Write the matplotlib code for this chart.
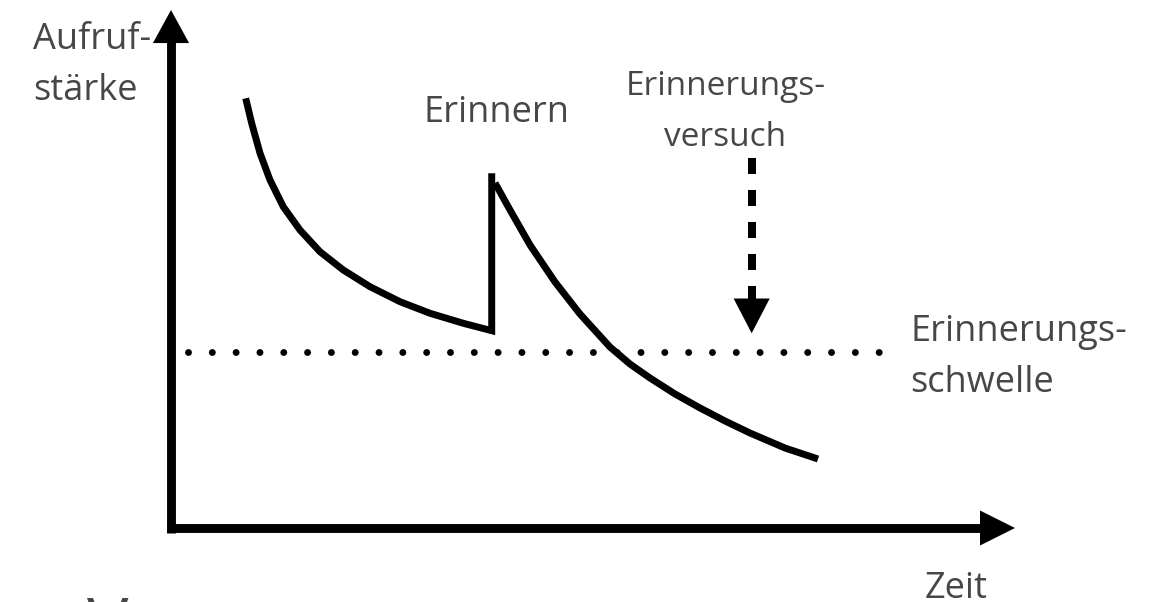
import matplotlib
matplotlib.use("Agg")
import matplotlib.pyplot as plt

# retrieval strength over time (arbitrary units)
time_before = [0.885, 0.956, 1.055, 1.173, 1.330, 1.528, 1.765, 2.041, 2.358, 2.713, 3.069,
               3.463, 3.800, 3.800]
strength_before = [8.295, 7.813, 7.234, 6.718, 6.203, 5.753, 5.334, 4.981, 4.658, 4.369, 4.145,
                   3.952, 3.809, 6.848]
time_after = [3.839, 4.017, 4.254, 4.550, 4.846, 5.201, 5.438, 5.675, 5.972, 6.268, 6.564,
              6.860, 7.275, 7.666]
strength_after = [6.660, 6.139, 5.463, 4.749, 4.131, 3.494, 3.166, 2.896, 2.587, 2.317, 2.066,
                  1.834, 1.544, 1.332]

threshold = 3.40
threshold_span = [0.20, 8.46]
attempt_time = 6.88
attempt_span = [7.14, 3.76]
axis_end = [10.0, 10.0]

TEXT_COLOR = "#474747"
FONT = ["Open Sans", "DejaVu Sans"]
FS = 26

# pixel scale of one unit, used for limits and arrow heads
PX_X, PX_Y = 84.4, 51.8

fig = plt.figure(figsize=(11.56, 6.02), dpi=100)
ax = fig.add_axes([0, 0, 1, 1])
ax.set_xlim(-171 / PX_X, (1156 - 171) / PX_X)
ax.set_ylim(-(602 - 528) / PX_Y, 528 / PX_Y)
ax.axis("off")


def head(x0, y0, x1, y1, length, width):
    # filled arrow head only, sizes in points
    ax.annotate("", xy=(x1, y1), xytext=(x0, y0),
                arrowprops=dict(arrowstyle=f"-|>,head_length={length},head_width={width / 2}",
                                color="black", lw=0, shrinkA=0, shrinkB=0,
                                mutation_scale=1))


# axes with arrows
axis_lw = 6.4
y_head = 33 / PX_Y
x_head = 35 / PX_X
ax.plot([0, 0], [-4.5 / PX_Y, axis_end[1] - y_head + 0.05], color="black", lw=axis_lw,
        solid_capstyle="butt")
ax.plot([-4.5 / PX_X, axis_end[0] - x_head + 0.05], [0, 0], color="black", lw=axis_lw,
        solid_capstyle="butt")
head(0, axis_end[1] - y_head, 0, axis_end[1], 23.8, 26)
head(axis_end[0] - x_head, 0, axis_end[0], 0, 25.2, 25.2)

# curve, jump at recall, then the new decay
ax.plot(time_before, strength_before, color="black", lw=5.0,
        solid_joinstyle="miter", solid_capstyle="butt")
ax.plot(time_after, strength_after, color="black", lw=5.0,
        solid_joinstyle="round", solid_capstyle="butt")

# retrieval threshold (dotted)
ax.plot(threshold_span, [threshold, threshold], color="black", lw=5.0,
        linestyle=(0, (0.001, 24 / 7)), dash_capstyle="round")

# retrieval attempt (dashed arrow)
a_head = 35 / PX_Y
ax.plot([attempt_time, attempt_time], [attempt_span[0], attempt_span[1] + a_head - 0.05],
        color="black", lw=5.76, linestyle=(0, (2, 2)), dash_capstyle="butt")
head(attempt_time, attempt_span[1] + a_head, attempt_time, attempt_span[1], 25, 26)

# labels (anchored on the baseline of the last line)
txt = dict(color=TEXT_COLOR, family=FONT, fontsize=FS, va="baseline", linespacing=1.56)
ax.text(-1.635, 8.26, "Aufruf-\nstärke", ha="left", **txt)
ax.text(2.986, 7.84, "Erinnern", ha="left", **txt)
ax.text(8.756, 2.625, "Erinnerungs-\nschwelle", ha="left", **txt)
ax.text(8.93, -1.351, "Zeit", ha="left", **txt)
ax.text(6.57, 7.37, "Erinnerungs-\nversuch", ha="center", multialignment="center",
        color=TEXT_COLOR, family=FONT, fontsize=24, va="baseline", linespacing=1.72)
ax.text(-0.995, -1.293, "V", ha="left", va="top", color=TEXT_COLOR, family=FONT, fontsize=50)

fig.savefig("out.png", dpi=100)
